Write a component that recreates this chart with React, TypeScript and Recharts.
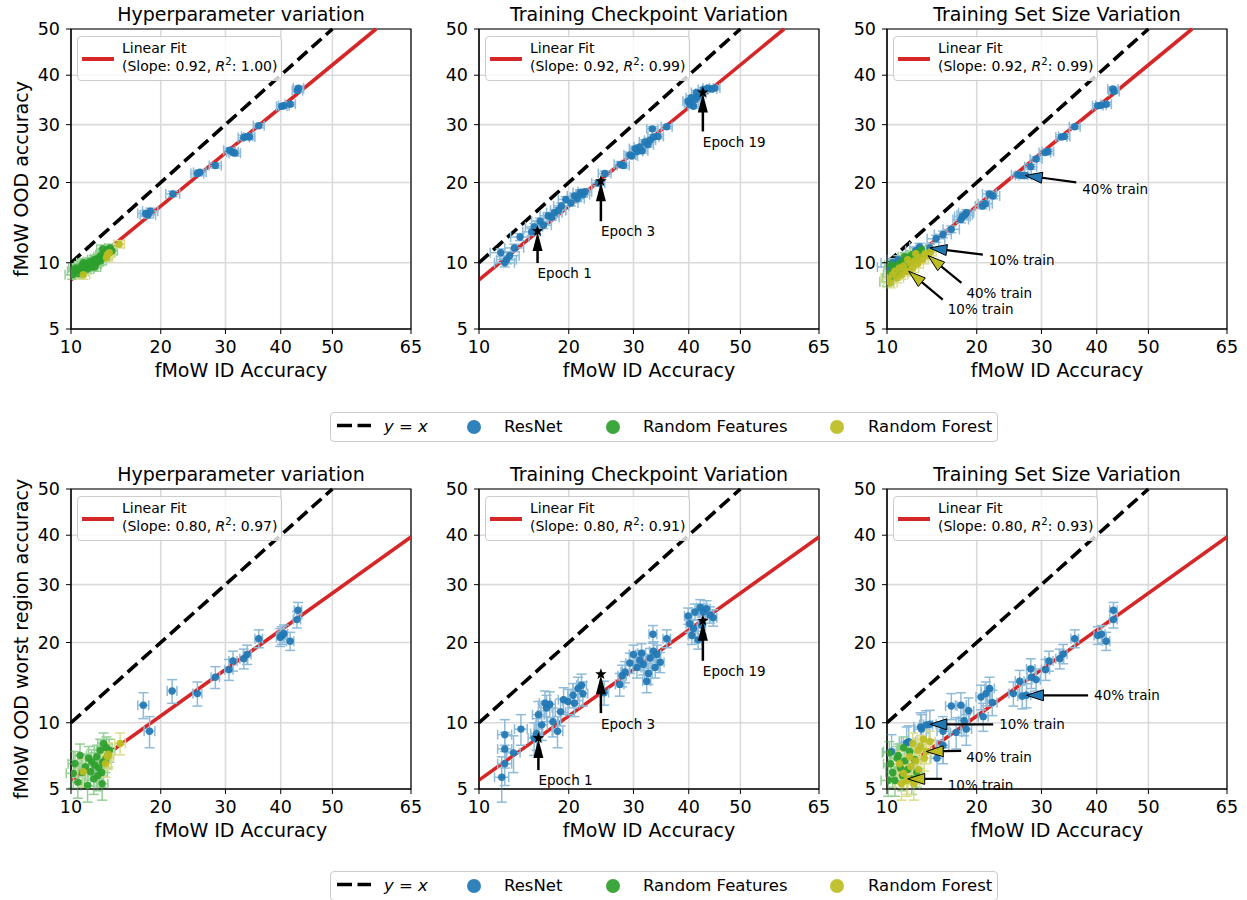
import React from "react";
import {
  ScatterChart,
  Scatter,
  XAxis,
  YAxis,
  CartesianGrid,
  ErrorBar,
  ReferenceLine,
  ReferenceArea,
  ReferenceDot,
} from "recharts";

const FONT = "'DejaVu Sans', sans-serif";
const BLUE = "#1f77b4";
const GREEN = "#2ca02c";
const OLIVE = "#bcbd22";
const RED = "#d62728";
const ERR = { ResNet: "#8fbbd9", "Random Features": "#95cf95", "Random Forest": "#dcdd8c" };
const COLORS = { ResNet: BLUE, "Random Features": GREEN, "Random Forest": OLIVE };

// axis ticks (percent, drawn on a probit scale)
const xTickLabels = [10, 20, 30, 40, 50, 65];
const yTickLabels = [5, 10, 20, 30, 40, 50];

const panelTitles = ["Hyperparameter variation", "Training Checkpoint Variation", "Training Set Size Variation"];
const rowYLabels = ["fMoW OOD accuracy", "fMoW OOD worst region accuracy"];

// linear fits in probit space
const fitSlopes = [0.92, 0.8];
const fitIntercepts = [-0.197, -0.571];
const topR2 = ["1.00", "0.99", "0.99"];
const bottomR2 = ["0.97", "0.91", "0.93"];

// error bar half widths (accuracy points): [x, y]
const topErr = { ResNet: [1.0, 0.4], "Random Features": [0.6, 0.4], "Random Forest": [0.6, 0.4] };
const bottomErr = { ResNet: [0.7, 1.4], "Random Features": [0.6, 0.9], "Random Forest": [0.6, 0.9] };

// ---------- top row: OOD accuracy ----------
const hpResNetTop = [
  [18.0, 15.6], [18.6, 15.9], [18.3, 15.4], [21.7, 18.3], [25.4, 21.4], [25.8, 21.6], [28.3, 22.7],
  [30.7, 25.3], [31.6, 24.8], [31.2, 25.0], [33.2, 27.6], [33.8, 27.8], [34.2, 27.7], [35.9, 29.8],
  [40.2, 33.6], [40.6, 33.7], [41.8, 34.0], [43.2, 36.8], [43.4, 37.3],
];
const hpRandFeatTop = [
  [10.1, 8.9], [10.3, 9.2], [10.4, 9.5], [10.6, 9.0], [10.7, 9.4], [10.9, 9.7], [11.0, 9.2], [11.2, 9.5],
  [11.3, 9.9], [11.5, 9.4], [11.6, 9.8], [11.7, 10.1], [11.9, 9.6], [12.0, 10.0], [12.1, 10.3], [12.3, 9.9],
  [12.4, 10.4], [12.5, 10.1], [12.7, 10.6], [12.8, 10.2], [12.9, 10.8], [13.1, 10.5], [13.2, 11.0],
  [13.4, 10.7], [13.5, 11.3], [13.7, 11.0], [13.8, 11.5], [14.0, 11.2], [11.1, 10.0], [12.2, 9.6], [13.0, 11.4],
];
const hpRandForestTop = [[11.1, 8.9], [13.5, 10.8], [13.4, 10.5], [13.7, 11.0], [14.8, 11.9]];

const ckptResNetTop = [
  [12.0, 11.0], [12.4, 10.0], [12.6, 10.3], [12.9, 10.7], [13.4, 11.5], [14.0, 12.7], [15.6, 13.9], [15.3, 13.3],
  [16.3, 14.6], [16.7, 14.1], [17.3, 15.3], [17.7, 15.1], [18.1, 15.7], [18.6, 16.0], [19.0, 16.6], [19.6, 17.5],
  [20.3, 17.0], [20.8, 18.0], [21.2, 17.6], [21.6, 18.5], [22.3, 18.6], [22.0, 18.2], [25.3, 21.4], [24.3, 19.9],
  [27.8, 22.9], [28.3, 22.7], [29.4, 24.5], [29.7, 24.3], [30.3, 25.6], [30.6, 25.1], [31.1, 25.9], [31.5, 25.2],
  [32.0, 26.8], [32.5, 26.3], [32.9, 27.1], [33.5, 27.7], [34.3, 27.8], [33.3, 29.2], [35.9, 29.6], [39.9, 34.6],
  [40.2, 34.0], [40.9, 33.6], [41.2, 35.0], [41.8, 35.6], [42.3, 36.2], [42.8, 37.0], [43.7, 37.3], [44.4, 37.1],
  [45.0, 37.3], [40.5, 35.3], [41.5, 36.4],
];
const ckptNotesTop = [[16.0, 13.4, "Epoch 1"], [24.7, 20.2, "Epoch 3"], [42.7, 36.4, "Epoch 19"]];

const sizeResNetTop = [
  [43.1, 37.1], [43.3, 36.6], [40.2, 33.7], [40.8, 33.8], [41.8, 34.0], [35.9, 29.6], [33.5, 27.7], [34.0, 27.8],
  [31.1, 25.1], [30.6, 24.9], [29.1, 23.8], [28.2, 22.5], [26.1, 21.2], [26.7, 21.1], [27.3, 21.1], [21.8, 18.3],
  [22.3, 18.0], [20.8, 16.6], [21.2, 16.9], [18.6, 15.7], [18.1, 15.2], [17.9, 14.8], [18.4, 15.4], [16.7, 13.6],
  [15.7, 13.0], [14.9, 12.5], [14.2, 11.5], [13.1, 11.6], [12.7, 11.2], [10.5, 10.0], [11.0, 10.3], [10.2, 9.6],
];
const sizeRandFeatTop = [
  [10.0, 8.3], [10.2, 8.6], [10.3, 9.0], [10.5, 9.3], [10.6, 8.8], [10.8, 9.6], [11.0, 9.1], [11.1, 9.9],
  [11.3, 9.4], [11.5, 10.2], [11.7, 9.7], [11.9, 10.5], [12.1, 10.0], [12.3, 10.8], [12.5, 10.3], [12.8, 11.0],
  [13.0, 10.6], [13.3, 11.3], [10.4, 9.8], [11.6, 10.6],
];
const sizeRandForestTop = [
  [10.1, 8.6], [10.3, 8.2], [10.5, 8.9], [10.7, 9.2], [10.9, 8.6], [11.1, 9.5], [11.3, 8.9], [11.5, 9.7],
  [11.7, 9.2], [12.0, 9.2], [12.2, 9.9], [12.4, 9.5], [12.6, 10.2], [12.9, 9.9], [13.1, 10.5], [13.4, 10.3],
  [13.7, 10.9], [14.0, 10.7], [14.3, 11.1], [12.7, 10.9], [11.9, 10.3],
];
const sizeNotesTop = [
  [27.3, 21.1, "40% train", "ResNet"],
  [14.2, 11.5, "10% train", "ResNet"],
  [14.0, 10.7, "40% train", "Random Forest"],
  [12.0, 9.2, "10% train", "Random Forest"],
];

// ---------- bottom row: OOD worst region accuracy ----------
const hpResNetBottom = [
  [43.3, 25.3], [43.1, 23.7], [40.2, 21.1], [39.9, 20.8], [40.6, 21.4], [41.8, 20.2], [35.9, 20.6], [33.8, 18.2],
  [33.2, 17.6], [31.3, 17.3], [30.6, 16.1], [28.3, 15.1], [25.4, 13.1], [21.6, 13.4], [17.7, 11.8], [18.5, 9.2],
];
const hpRandFeatBottom = [
  [10.2, 5.95], [10.35, 6.6], [10.8, 7.2], [11.3, 6.4], [11.8, 6.05], [11.9, 6.75], [12.1, 5.6], [12.4, 7.1],
  [12.6, 6.3], [12.75, 7.6], [12.95, 5.3], [13.1, 8.15], [13.3, 6.9], [13.55, 7.2], [13.7, 7.6], [10.6, 5.4],
  [11.0, 6.0], [11.5, 5.2], [12.2, 6.5], [12.9, 6.0], [13.4, 7.8], [11.6, 7.0], [12.5, 5.8], [13.0, 6.7],
];
const hpRandForestBottom = [[11.1, 6.05], [13.5, 7.1], [13.3, 6.6], [14.9, 8.15], [13.6, 7.3]];

const ckptResNetBottom = [
  [12.1, 5.7], [12.4, 6.6], [12.4, 7.7], [12.4, 8.9], [13.3, 7.4], [14.1, 9.4], [15.6, 8.6], [15.9, 9.0],
  [16.1, 10.8], [16.5, 9.8], [16.9, 12.0], [17.1, 11.5], [17.5, 11.9], [17.9, 10.1], [18.5, 9.2], [18.9, 11.1],
  [19.3, 12.4], [19.9, 12.2], [20.6, 12.9], [20.8, 12.0], [21.3, 13.7], [21.8, 14.1], [22.0, 13.1], [25.2, 13.2],
  [27.7, 14.2], [28.1, 15.3], [28.6, 15.8], [29.4, 17.0], [30.0, 18.2], [30.6, 16.4], [31.1, 17.4], [31.4, 18.4],
  [31.7, 16.8], [32.3, 14.6], [32.6, 15.6], [32.9, 17.7], [33.4, 21.3], [33.5, 18.7], [33.8, 16.4], [34.1, 18.2],
  [34.7, 17.1], [35.9, 20.6], [39.9, 24.3], [40.2, 23.0], [40.6, 21.1], [40.9, 22.2], [41.2, 25.0], [41.8, 20.4],
  [42.2, 25.8], [42.5, 22.7], [42.8, 25.0], [43.4, 25.6], [44.1, 24.5], [44.7, 24.0],
];
const ckptNotesBottom = [[16.1, 8.6, "Epoch 1"], [24.7, 15.5, "Epoch 3"], [42.7, 23.5, "Epoch 19"]];

const sizeResNetBottom = [
  [43.2, 25.3], [43.2, 23.7], [40.2, 21.1], [40.9, 21.3], [41.8, 20.2], [35.9, 20.6], [33.8, 18.3], [33.2, 17.6],
  [31.3, 17.3], [30.7, 16.1], [28.2, 16.2], [29.1, 14.8], [28.3, 15.1], [26.4, 14.6], [25.4, 13.1], [26.8, 12.8],
  [27.5, 12.9], [20.6, 12.7], [21.3, 13.1], [21.8, 13.7], [22.2, 12.1], [20.9, 10.6], [16.7, 11.7], [17.9, 11.8],
  [18.9, 11.2], [18.3, 10.2], [18.6, 9.4], [17.3, 9.1], [15.7, 9.2], [15.7, 8.0], [15.0, 7.0], [13.3, 9.4],
  [13.8, 9.8], [14.2, 9.85], [13.2, 9.6], [12.0, 8.3], [10.4, 7.5], [11.8, 8.2],
];
const sizeRandFeatBottom = [
  [10.1, 5.5], [10.3, 6.6], [10.5, 6.0], [10.7, 5.5], [10.9, 7.0], [11.0, 7.2], [11.2, 6.3], [11.4, 5.8],
  [11.6, 6.8], [11.9, 6.2], [12.1, 7.5], [12.3, 5.6], [12.6, 6.9], [10.2, 7.4], [11.5, 7.8], [12.8, 6.0],
];
const sizeRandForestBottom = [
  [11.3, 5.3], [11.5, 5.95], [11.8, 5.5], [11.9, 5.6], [12.1, 7.1], [12.4, 8.15], [12.95, 7.6], [13.5, 8.5],
  [13.8, 7.5], [12.2, 6.4], [12.7, 6.8], [13.2, 7.9], [13.0, 6.2], [11.1, 6.6], [14.2, 8.3], [12.5, 5.3], [13.6, 7.0],
];
const sizeNotesBottom = [
  [27.5, 12.9, "40% train", "ResNet"],
  [14.2, 9.85, "10% train", "ResNet"],
  [13.8, 7.5, "40% train", "Random Forest"],
  [11.9, 5.6, "10% train", "Random Forest"],
];

// annotation arrow layout (pixels, relative to the annotated point)
const epochLayoutTop = [{ len: 32, text: 42 }, { len: 40, text: 50 }, { len: 39, text: 50 }];
const epochLayoutBottom = [{ len: 32, text: 42 }, { len: 39, text: 50 }, { len: 40, text: 51 }];
const sizeLayoutTop = [
  { dx: 51, dy: 7, tx: 57, ty: 13.5 },
  { dx: 53, dy: 6.7, tx: 59, ty: 12.7 },
  { dx: 33.4, dy: 27.3, tx: 38.4, ty: 37.3 },
  { dx: 34, dy: 28.3, tx: 39, ty: 38.3 },
];
const sizeLayoutBottom = [
  { dx: 61.6, dy: 0, tx: 67.6, ty: 0 },
  { dx: 63.3, dy: 0, tx: 69.3, ty: 0 },
  { dx: 35, dy: -0.7, tx: 40, ty: 5.3 },
  { dx: 34.4, dy: 0, tx: 40, ty: 6 },
];

// inverse normal CDF (Acklam)
function probit(p: number): number {
  const a = [-39.69683028665376, 220.9460984245205, -275.9285104469687, 138.357751867269, -30.66479806614716, 2.506628277459239];
  const b = [-54.47609879822406, 161.5858368580409, -155.6989798598866, 66.80131188771972, -13.28068155288572];
  const c = [-0.007784894002430293, -0.3223964580411365, -2.400758277161838, -2.549732539343734, 4.374664141464968, 2.938163982698783];
  const d = [0.007784695709041462, 0.3224671290700398, 2.445134137142996, 3.754408661907416];
  const pl = 0.02425;
  if (p < pl) {
    const q = Math.sqrt(-2 * Math.log(p));
    return (((((c[0] * q + c[1]) * q + c[2]) * q + c[3]) * q + c[4]) * q + c[5]) / ((((d[0] * q + d[1]) * q + d[2]) * q + d[3]) * q + 1);
  }
  if (p > 1 - pl) {
    const q = Math.sqrt(-2 * Math.log(1 - p));
    return -(((((c[0] * q + c[1]) * q + c[2]) * q + c[3]) * q + c[4]) * q + c[5]) / ((((d[0] * q + d[1]) * q + d[2]) * q + d[3]) * q + 1);
  }
  const q = p - 0.5;
  const r = q * q;
  return ((((((a[0] * r + a[1]) * r + a[2]) * r + a[3]) * r + a[4]) * r + a[5]) * q) / (((((b[0] * r + b[1]) * r + b[2]) * r + b[3]) * r + b[4]) * r + 1);
}
const pr = (pct: number) => probit(pct / 100);

const xTicks = xTickLabels.map(pr);
const yTicks = yTickLabels.map(pr);
const xDomain = [xTicks[0], xTicks[xTicks.length - 1]];
const yDomain = [yTicks[0], yTicks[yTicks.length - 1]];

const nearest = (labels: number[], ticks: number[]) => (v: number) => {
  let best = 0;
  ticks.forEach((t, i) => {
    if (Math.abs(t - v) < Math.abs(ticks[best] - v)) best = i;
  });
  return String(labels[best]);
};
const fmtX = nearest(xTickLabels, xTicks);
const fmtY = nearest(yTickLabels, yTicks);

const toRows = (pts: number[][], ex: number, ey: number) =>
  pts.map(([a, b]) => {
    const x = pr(a);
    const y = pr(b);
    return { x, y, ex: [x - pr(a - ex), pr(a + ex) - x], ey: [y - pr(b - ey), pr(b + ey) - y] };
  });

const dotShape = (color: string) => (p: any) => <circle cx={p.cx} cy={p.cy} r={3.7} fill={color} fillOpacity={0.92} />;

const starShape = (p: any) => {
  const pts: string[] = [];
  for (let i = 0; i < 10; i++) {
    const r = i % 2 === 0 ? 6 : 2.5;
    const ang = -Math.PI / 2 + (i * Math.PI) / 5;
    pts.push(`${p.cx + r * Math.cos(ang)},${p.cy + r * Math.sin(ang)}`);
  }
  return <polygon points={pts.join(" ")} fill="#000" />;
};

const EpochArrow = ({ cx, cy, label, lay }: any) => (
  <g>
    <line x1={cx} y1={cy + lay.len} x2={cx} y2={cy + 18} stroke="#000" strokeWidth={2.5} />
    <polygon points={`${cx},${cy + 1} ${cx - 5},${cy + 20} ${cx + 5},${cy + 20}`} fill="#000" />
    <text x={cx} y={cy + lay.text} dy="0.35em" fontSize={13.5} fontFamily={FONT} fill="#000">
      {label}
    </text>
  </g>
);

const FancyArrow = ({ cx, cy, label, color, lay }: any) => {
  const len = Math.hypot(lay.dx, lay.dy);
  const ux = lay.dx / len;
  const uy = lay.dy / len;
  const hl = 17;
  const hw = 5.5;
  const bx = cx + ux * hl;
  const by = cy + uy * hl;
  return (
    <g>
      <line x1={bx} y1={by} x2={cx + lay.dx} y2={cy + lay.dy} stroke="#000" strokeWidth={2.2} />
      <polygon
        points={`${cx},${cy} ${bx - uy * hw},${by + ux * hw} ${bx + uy * hw},${by - ux * hw}`}
        fill={color}
        stroke="#000"
        strokeWidth={1}
      />
      <text x={cx + lay.tx} y={cy + lay.ty} dy="0.35em" fontSize={13.5} fontFamily={FONT} fill="#000">
        {label}
      </text>
    </g>
  );
};

const PLOT_W = 340;
const colLefts = [71, 479, 887];
const rowTops = [29, 489];

type SeriesDef = { name: string; pts: number[][] };

const Panel = ({ col, row, series, r2, epochNotes, epochLayout, sizeNotes, sizeLayout }: any) => {
  const plotLeft = colLefts[col];
  const plotTop = rowTops[row];
  const slope = fitSlopes[row];
  const icpt = fitIntercepts[row];
  const errs: any = row === 0 ? topErr : bottomErr;
  const x0 = xDomain[0];
  const x1 = Math.min(xDomain[1], (yDomain[1] - icpt) / slope);
  const fitSeg = [{ x: x0, y: slope * x0 + icpt }, { x: x1, y: slope * x1 + icpt }];
  const diagEnd = Math.min(xDomain[1], yDomain[1]);
  const diagSeg = [{ x: x0, y: x0 }, { x: diagEnd, y: diagEnd }];
  const tickStyle = { fill: "#000", fontSize: 17.5, fontFamily: FONT };

  return (
    <>
      <div style={{ position: "absolute", left: plotLeft - 70, top: plotTop - 29 }}>
        <ScatterChart width={420} height={400} margin={{ top: 29, right: 10, bottom: 11, left: 0 }}>
          <CartesianGrid stroke="#dadada" strokeWidth={1.6} />
          <XAxis
            type="number"
            dataKey="x"
            domain={xDomain}
            ticks={xTicks}
            interval={0}
            allowDataOverflow
            height={60}
            tickFormatter={fmtX}
            tick={tickStyle}
            tickSize={5}
            tickMargin={7}
            tickLine={{ stroke: "#000" }}
            axisLine={{ stroke: "#000" }}
            label={{ value: "fMoW ID Accuracy", position: "insideBottom", offset: 12, fill: "#000", fontSize: 19, fontFamily: FONT }}
          />
          <YAxis
            type="number"
            dataKey="y"
            domain={yDomain}
            ticks={yTicks}
            interval={0}
            allowDataOverflow
            width={70}
            tickFormatter={fmtY}
            tick={tickStyle}
            tickSize={5}
            tickMargin={6}
            tickLine={{ stroke: "#000" }}
            axisLine={{ stroke: "#000" }}
            label={
              col === 0
                ? {
                    value: rowYLabels[row],
                    angle: -90,
                    position: "insideLeft",
                    offset: 20,
                    fill: "#000",
                    fontSize: 19,
                    fontFamily: FONT,
                    style: { textAnchor: "middle" },
                  }
                : undefined
            }
          />
          <ReferenceLine segment={diagSeg} stroke="#000" strokeWidth={3.6} strokeDasharray="13 6" ifOverflow="visible" />
          <ReferenceLine segment={fitSeg} stroke={RED} strokeWidth={3.6} ifOverflow="visible" />
          {series.map((s: SeriesDef) => {
            const [ex, ey] = errs[s.name];
            return (
              <Scatter
                key={s.name}
                name={s.name}
                data={toRows(s.pts, ex, ey)}
                fill={(COLORS as any)[s.name]}
                shape={dotShape((COLORS as any)[s.name])}
                isAnimationActive={false}
              >
                <ErrorBar dataKey="ex" direction="x" width={5} stroke={(ERR as any)[s.name]} strokeWidth={1.5} />
                <ErrorBar dataKey="ey" direction="y" width={5} stroke={(ERR as any)[s.name]} strokeWidth={1.5} />
              </Scatter>
            );
          })}
          {epochNotes && (
            <Scatter
              name="checkpoints"
              data={epochNotes.map((n: any[]) => ({ x: pr(n[0]), y: pr(n[1]) }))}
              shape={starShape}
              isAnimationActive={false}
            />
          )}
          {epochNotes &&
            epochNotes.map((n: any[], i: number) => (
              <ReferenceDot
                key={`e${i}`}
                x={pr(n[0])}
                y={pr(n[1])}
                ifOverflow="visible"
                shape={(p: any) => <EpochArrow cx={p.cx} cy={p.cy} label={n[2]} lay={epochLayout[i]} />}
              />
            ))}
          {sizeNotes &&
            sizeNotes.map((n: any[], i: number) => (
              <ReferenceDot
                key={`s${i}`}
                x={pr(n[0])}
                y={pr(n[1])}
                ifOverflow="visible"
                shape={(p: any) => (
                  <FancyArrow cx={p.cx} cy={p.cy} label={n[2]} color={(COLORS as any)[n[3]]} lay={sizeLayout[i]} />
                )}
              />
            ))}
          <ReferenceArea
            x1={xDomain[0]}
            x2={xDomain[1]}
            y1={yDomain[0]}
            y2={yDomain[1]}
            fill="none"
            fillOpacity={0}
            stroke="#000"
            strokeWidth={1.2}
            ifOverflow="visible"
          />
        </ScatterChart>
      </div>
      <div
        style={{
          position: "absolute",
          left: plotLeft,
          width: PLOT_W,
          top: plotTop - 26,
          lineHeight: "23px",
          textAlign: "center",
          fontFamily: FONT,
          fontSize: 19,
          color: "#000",
        }}
      >
        {panelTitles[col]}
      </div>
      <div
        style={{
          position: "absolute",
          left: plotLeft + 6,
          top: plotTop + 7,
          width: 205,
          height: 45,
          boxSizing: "border-box",
          border: "1px solid #cccccc",
          borderRadius: 4,
          background: "rgba(255,255,255,0.8)",
          fontFamily: FONT,
          fontSize: 14,
          color: "#000",
        }}
      >
        <div style={{ position: "absolute", left: 4, top: 19.5, width: 32, height: 4, background: RED }} />
        <div style={{ position: "absolute", left: 44, top: 2, lineHeight: "18px", whiteSpace: "nowrap" }}>Linear Fit</div>
        <div style={{ position: "absolute", left: 44, top: 20, lineHeight: "18px", whiteSpace: "nowrap" }}>
          (Slope: {slope.toFixed(2)}, <i>R</i>
          <sup style={{ fontSize: 10, lineHeight: 0 }}>2</sup>: {r2})
        </div>
      </div>
    </>
  );
};

const legendItems = [
  { name: "ResNet", color: BLUE, dot: 142.5, text: 173 },
  { name: "Random Features", color: GREEN, dot: 281.5, text: 312 },
  { name: "Random Forest", color: OLIVE, dot: 506, text: 537 },
];

const SharedLegend = ({ top }: { top: number }) => (
  <div
    style={{
      position: "absolute",
      left: 330,
      top,
      width: 668,
      height: 30,
      boxSizing: "border-box",
      border: "1px solid #cccccc",
      borderRadius: 4,
      background: "#fff",
      fontFamily: FONT,
      fontSize: 16.5,
      color: "#000",
    }}
  >
    <svg style={{ position: "absolute", left: 6, top: 10 }} width={34} height={5}>
      <line x1={0} y1={2.5} x2={34} y2={2.5} stroke="#000" strokeWidth={3.6} strokeDasharray="15 5.5" />
    </svg>
    <div style={{ position: "absolute", left: 53, top: 3, lineHeight: "22px", whiteSpace: "nowrap" }}>
      <i>y</i> = <i>x</i>
    </div>
    {legendItems.map((it) => (
      <React.Fragment key={it.name}>
        <div
          style={{
            position: "absolute",
            left: it.dot - 7,
            top: 7,
            width: 14,
            height: 14,
            borderRadius: 7,
            background: it.color,
            opacity: 0.92,
          }}
        />
        <div style={{ position: "absolute", left: it.text, top: 3, lineHeight: "22px", whiteSpace: "nowrap" }}>{it.name}</div>
      </React.Fragment>
    ))}
  </div>
);

const App = () => {
  return (
    <div style={{ position: "relative", width: 1247, height: 900, background: "#fff", overflow: "hidden" }}>
      <style>{"body{margin:0}"}</style>
      <Panel
        col={0}
        row={0}
        r2={topR2[0]}
        series={[
          { name: "ResNet", pts: hpResNetTop },
          { name: "Random Features", pts: hpRandFeatTop },
          { name: "Random Forest", pts: hpRandForestTop },
        ]}
      />
      <Panel
        col={1}
        row={0}
        r2={topR2[1]}
        series={[{ name: "ResNet", pts: ckptResNetTop }]}
        epochNotes={ckptNotesTop}
        epochLayout={epochLayoutTop}
      />
      <Panel
        col={2}
        row={0}
        r2={topR2[2]}
        series={[
          { name: "ResNet", pts: sizeResNetTop },
          { name: "Random Features", pts: sizeRandFeatTop },
          { name: "Random Forest", pts: sizeRandForestTop },
        ]}
        sizeNotes={sizeNotesTop}
        sizeLayout={sizeLayoutTop}
      />
      <Panel
        col={0}
        row={1}
        r2={bottomR2[0]}
        series={[
          { name: "ResNet", pts: hpResNetBottom },
          { name: "Random Features", pts: hpRandFeatBottom },
          { name: "Random Forest", pts: hpRandForestBottom },
        ]}
      />
      <Panel
        col={1}
        row={1}
        r2={bottomR2[1]}
        series={[{ name: "ResNet", pts: ckptResNetBottom }]}
        epochNotes={ckptNotesBottom}
        epochLayout={epochLayoutBottom}
      />
      <Panel
        col={2}
        row={1}
        r2={bottomR2[2]}
        series={[
          { name: "ResNet", pts: sizeResNetBottom },
          { name: "Random Features", pts: sizeRandFeatBottom },
          { name: "Random Forest", pts: sizeRandForestBottom },
        ]}
        sizeNotes={sizeNotesBottom}
        sizeLayout={sizeLayoutBottom}
      />
      <SharedLegend top={412} />
      <SharedLegend top={871} />
    </div>
  );
};

export default App;
